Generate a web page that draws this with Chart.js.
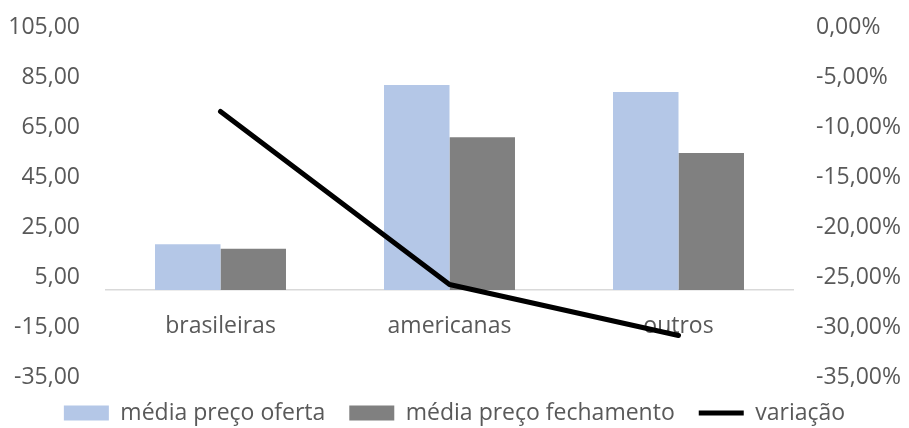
<!DOCTYPE html>
<html lang="pt">
<head>
  <meta charset="UTF-8">
  <title>Preço oferta x fechamento</title>
  <script src="https://cdn.jsdelivr.net/npm/chart.js@4.4.1/dist/chart.umd.min.js"></script>
  <style>
    html, body { margin: 0; padding: 0; background: #fff; }
    #wrap { width: 909px; height: 428px; position: relative; }
  </style>
</head>
<body>
  <div id="wrap"><canvas id="grafico"></canvas></div>
  <script>
const categorias = ["brasileiras", "americanas", "outros"];
const mediaOferta = [18.3, 82.0, 79.2];
const mediaFechamento = [16.5, 61.1, 54.8];
const variacao = [-8.4, -25.7, -30.8];   // em %

const numero = v => v.toFixed(2).replace(".", ",");

Chart.defaults.font.family = "'Open Sans', sans-serif";
Chart.defaults.font.size = 23;
Chart.defaults.color = "#595959";

new Chart("grafico", {
  type: "bar",
  data: {
    labels: categorias,
    datasets: [
      {
        label: "média preço oferta",
        data: mediaOferta,
        backgroundColor: "#b4c7e7",
        categoryPercentage: 0.572,
        barPercentage: 1.0,
        yAxisID: "y",
        order: 1
      },
      {
        label: "média preço fechamento",
        data: mediaFechamento,
        backgroundColor: "#808080",
        categoryPercentage: 0.572,
        barPercentage: 1.0,
        yAxisID: "y",
        order: 2
      },
      {
        type: "line",
        label: "variação",
        data: variacao,
        borderColor: "#000000",
        backgroundColor: "#000000",
        borderWidth: 5,
        borderCapStyle: "round",
        borderJoinStyle: "round",
        pointRadius: 0,
        tension: 0,
        yAxisID: "y2",
        order: 0
      }
    ]
  },
  options: {
    responsive: true,
    maintainAspectRatio: false,
    animation: false,
    layout: { padding: { top: 27.5, left: 0, right: 0, bottom: -6.5 } },
    plugins: {
      tooltip: { enabled: false },
      legend: {
        position: "bottom",
        labels: {
          usePointStyle: true,
          pointStyleWidth: 45,
          boxHeight: 15,
          padding: 24,
          color: "#595959",
          sort: (a, b) => a.datasetIndex - b.datasetIndex,
          generateLabels: function(chart) {
            const items = Chart.defaults.plugins.legend.labels.generateLabels(chart);
            items.forEach(it => {
              if (it.datasetIndex === 2) {
                it.pointStyle = "line";
                it.lineWidth = 5;
                it.strokeStyle = "#000000";
              } else {
                it.pointStyle = "rect";
                it.lineWidth = 0;
              }
            });
            return items;
          }
        }
      }
    },
    scales: {
      x: {
        position: { y: 0 },
        grid: { display: false, drawTicks: false },
        border: { display: true, color: "#d9d9d9", width: 1.5 },
        ticks: { padding: 23, color: "#595959" }
      },
      y: {
        position: "left",
        min: -35,
        max: 105,
        grid: { display: false, drawTicks: true, tickLength: 26 },
        border: { display: false },
        ticks: { stepSize: 20, padding: 0, callback: v => numero(v) },
        afterFit: s => { s.width = 106; }
      },
      y2: {
        position: "right",
        min: -35,
        max: 0,
        grid: { display: false, drawTicks: true, tickLength: 23 },
        border: { display: false },
        ticks: { stepSize: 5, padding: 0, callback: v => numero(v) + "%" },
        afterFit: s => { s.width = 116; }
      }
    }
  }
});
  </script>
</body>
</html>
